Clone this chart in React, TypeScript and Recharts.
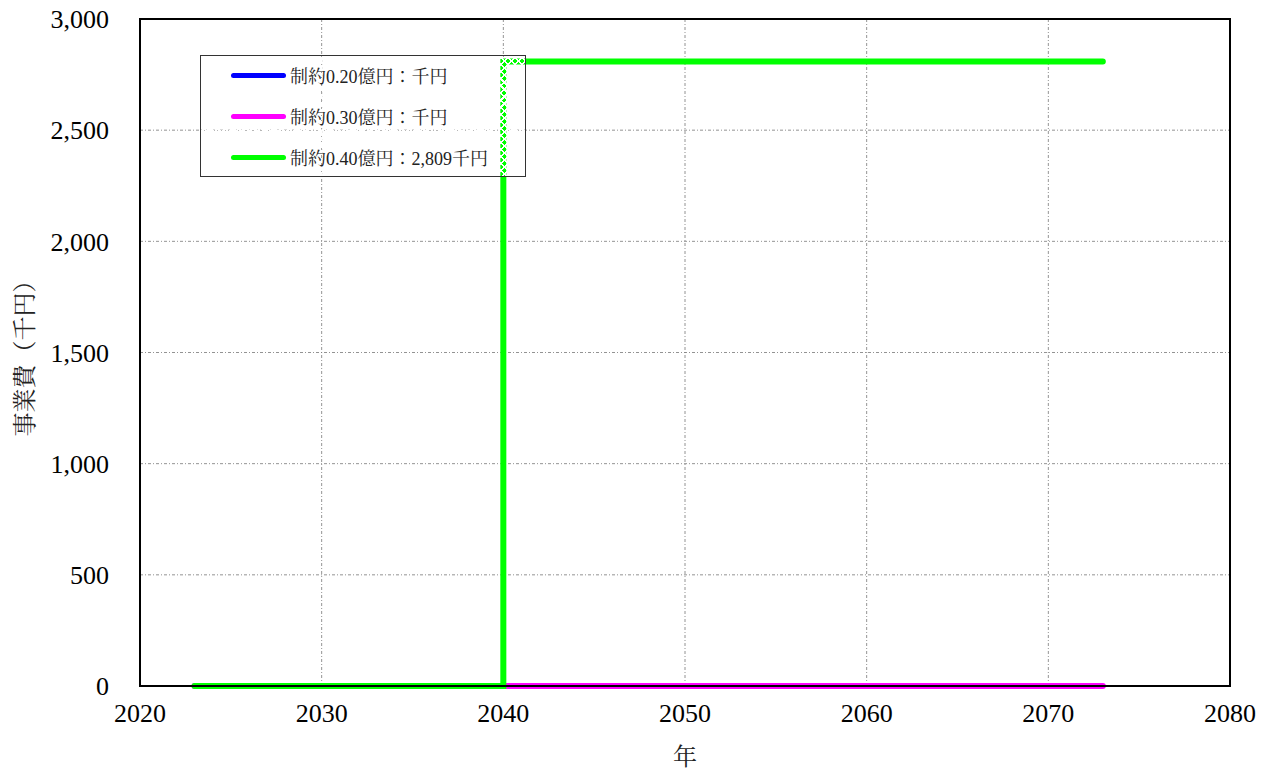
import { CartesianGrid, Legend, Line, LineChart, ReferenceArea, XAxis, YAxis } from "recharts";

const years0 = [2023, 2040, 2073];
const blueCost = [0, 0, 0];
const magentaCost = [0, 0, 0];
const greenCost = [0, 2809, 2809];

const xTicks = [2020, 2030, 2040, 2050, 2060, 2070, 2080];
const yTicks = [0, 500, 1000, 1500, 2000, 2500, 3000];

const legendItems = [
  { label: "制約0.20億円：千円", color: "#0000ff" },
  { label: "制約0.30億円：千円", color: "#ff00ff" },
  { label: "制約0.40億円：2,809千円", color: "#00ff00" }
];

const blueData = years0.map((year, i) => ({ year, cost: blueCost[i] }));
const magentaData = years0.map((year, i) => ({ year, cost: magentaCost[i] }));
const greenData = years0.map((year, i) => ({ year, cost: greenCost[i] }));

const font = "'Liberation Serif', 'Noto Serif CJK JP', 'Noto Sans CJK JP', serif";

function LegendBox() {
  return (
    <div
      style={{
        position: "absolute",
        left: 200,
        top: 55,
        width: 324,
        height: 120,
        border: "1px solid #333",
        background:
          "repeating-linear-gradient(45deg, rgba(255,255,255,1) 0 1.5px, transparent 1.5px 5px), repeating-linear-gradient(-45deg, rgba(255,255,255,1) 0 1.5px, transparent 1.5px 5px)",
        fontFamily: font,
        fontSize: 18,
        color: "#222"
      }}
    >
      {legendItems.map((item, i) => (
        <div key={item.label} style={{ position: "absolute", left: 30, top: 8 + i * 41, display: "flex", alignItems: "center", height: 22 }}>
          <div style={{ width: 55, height: 5, borderRadius: 3, background: item.color }} />
          <span style={{ marginLeft: 4 }}>{item.label}</span>
        </div>
      ))}
    </div>
  );
}

export default function App() {
  return (
    <div style={{ position: "absolute", left: 0, top: 0, width: 1267, height: 775, background: "#fff" }}>
      <LineChart width={1267} height={775} margin={{ top: 19, right: 37, bottom: 0, left: 0 }}>
        <CartesianGrid stroke="#777" strokeDasharray="3 2 1 2" strokeWidth={0.8} />
        <XAxis
          type="number"
          dataKey="year"
          domain={[2020, 2080]}
          ticks={xTicks}
          height={89}
          tickLine={false}
          axisLine={{ stroke: "#000", strokeWidth: 2 }}
          tick={{ fill: "#000", fontSize: 26, fontFamily: font }}
          tickMargin={12}
          label={{ value: "年", position: "insideBottom", offset: 10, fontSize: 24, fontFamily: font, style: { fill: "#222" } }}
        />
        <YAxis
          type="number"
          domain={[0, 3000]}
          ticks={yTicks}
          width={140}
          tickLine={false}
          axisLine={{ stroke: "#000", strokeWidth: 2 }}
          tick={{ fill: "#000", fontSize: 26, fontFamily: font }}
          tickMargin={25}
          tickFormatter={(v: number) => v.toLocaleString("en-US")}
          label={{ value: "事業費（千円）", angle: -90, position: "insideLeft", offset: 24, fontSize: 24, fontFamily: font, style: { textAnchor: "middle", fill: "#222" } }}
        />
        <ReferenceArea x1={2020} x2={2080} y1={0} y2={3000} fill="none" stroke="#000" strokeWidth={2} ifOverflow="visible" />
        <Line data={blueData} dataKey="cost" type="stepAfter" stroke="#0000ff" strokeWidth={3} strokeLinecap="round" dot={false} isAnimationActive={false} />
        <Line data={magentaData} dataKey="cost" type="stepAfter" stroke="#ff00ff" strokeWidth={6} strokeLinecap="round" dot={false} isAnimationActive={false} />
        <Line data={greenData} dataKey="cost" type="stepAfter" stroke="#00ff00" strokeWidth={6} strokeLinecap="round" strokeLinejoin="miter" dot={false} isAnimationActive={false} />
        <Legend content={() => <LegendBox />} wrapperStyle={{ position: "absolute", left: 0, top: 0, width: 0, height: 0 }} />
      </LineChart>
    </div>
  );
}
